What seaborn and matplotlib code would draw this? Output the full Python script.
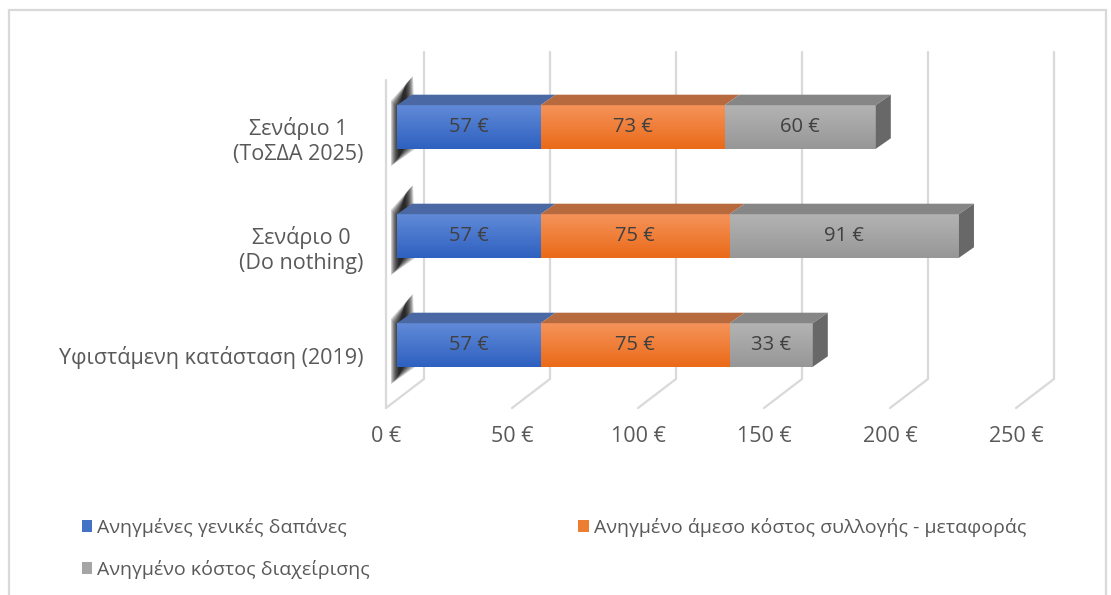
import matplotlib

matplotlib.use("Agg")
import matplotlib.pyplot as plt
import matplotlib.transforms as mtransforms
import numpy as np
import pandas as pd
import seaborn as sns
from matplotlib.colors import LinearSegmentedColormap
from matplotlib.patches import Patch, Polygon, Rectangle

# --- données ---
categories = ["Σενάριο 1\n(ΤοΣΔΑ 2025)", "Σενάριο 0\n(Do nothing)",
              "Υφιστάμενη κατάσταση (2019)"]
general_costs = [57, 57, 57]
direct_costs = [73, 75, 75]
mgmt_costs = [60, 91, 33]
series_names = ["Ανηγμένες γενικές δαπάνες",
                "Ανηγμένο άμεσο κόστος συλλογής - μεταφοράς",
                "Ανηγμένο κόστος διαχείρισης"]
xticks = [0, 50, 100, 150, 200, 250]

# couleurs : face avant (haut, bas), dessus
FRONT = [("#618bd8", "#2e60c0"), ("#f5935a", "#ea6a18"), ("#b3b3b3", "#979797")]
TOP = ["#4a68a3", "#b86a3f", "#868686"]
SIDE = "#686868"
LEGEND_COL = ["#4472c4", "#ed7d31", "#a5a5a5"]
GRID = "#d9d9d9"
TXT = "#595959"

sns.set_style("white")
plt.rcParams["font.family"] = ["Open Sans", "DejaVu Sans"]

W, H = 1111, 595
fig = plt.figure(figsize=(W / 100, H / 100), dpi=100)
ax = fig.add_axes([397 / W, (H - 408) / H, 630 / W, 356 / H])

df = pd.DataFrame({"cat": categories, "g": general_costs,
                   "d": direct_costs, "m": mgmt_costs})
df["c1"] = df["g"]
df["c2"] = df["g"] + df["d"]
df["c3"] = df["c2"] + df["m"]

# barres empilées (cumuls superposés)
for col, (top, _) in zip(["c3", "c2", "c1"], [FRONT[2], FRONT[1], FRONT[0]]):
    sns.barplot(data=df, x=col, y="cat", orient="h", color=top, width=0.4,
                linewidth=0, ax=ax, order=categories)

ax.set_xlim(0, 250)
ax.set_ylim(2.578, -0.688)
ax.set_xlabel("")
ax.set_ylabel("")
for s in ax.spines.values():
    s.set_visible(False)
ax.grid(False)

ident = mtransforms.IdentityTransform()


def d2p(x, y):
    """data -> pixels (origine en bas)"""
    return ax.transData.transform((x, y))


y_top_px = ax.transAxes.transform((0, 1))[1]
y_bot_px = ax.transAxes.transform((0, 0))[1]
BACK, FRONT_OFF, DEPTH_Y = 27, -11, 29

# murs / grille en perspective
for t in xticks:
    xf = d2p(t, 0)[0]
    ax.plot([xf + BACK, xf + BACK, xf + FRONT_OFF],
            [y_top_px, y_bot_px + DEPTH_Y, y_bot_px],
            transform=ident, color=GRID, lw=1.6, clip_on=False, zorder=0.5)
x0 = d2p(0, 0)[0]
ax.plot([x0 + FRONT_OFF, x0 + FRONT_OFF], [y_bot_px, y_top_px - 28],
        transform=ident, color=GRID, lw=1.6, clip_on=False, zorder=0.5)

# ombres floues sur le mur gauche
for i in range(len(categories)):
    xl, yc = d2p(0, i)
    base = np.array([[-6, 26], [16, 51], [18, -22], [-6, -39]], dtype=float)
    for k in range(8):
        shrink = np.array([[1, -1], [-1, -1], [-1, 1], [1, 1]]) * k * 1.1
        pts = base + shrink + [xl, yc]
        ax.add_patch(Polygon(pts, closed=True, transform=ident, color="black",
                             alpha=0.2, lw=0, zorder=1.5, clip_on=False))

# dégradé sur les faces avant
patches = [p for p in ax.patches if isinstance(p, Rectangle)]
grad = np.linspace(0, 1, 64).reshape(-1, 1)
layer_colors = [FRONT[2]] * 3 + [FRONT[1]] * 3 + [FRONT[0]] * 3
for z, (p, (ctop, cbot)) in enumerate(zip(patches, layer_colors)):
    cmap = LinearSegmentedColormap.from_list("g", [ctop, cbot])
    bx, by, bw, bh = p.get_x(), p.get_y(), p.get_width(), p.get_height()
    im = ax.imshow(grad, cmap=cmap, aspect="auto", origin="upper",
                   extent=(bx, bx + bw, by + bh, by), zorder=2 + z * 0.01)
    im.set_clip_path(p)
    p.set_facecolor("none")
ax.set_xlim(0, 250)
ax.set_ylim(2.578, -0.688)

DX, DY = 15, 10.5
half = 0.2
for i in range(len(categories)):
    segs = [(0, general_costs[i]),
            (general_costs[i], general_costs[i] + direct_costs[i]),
            (general_costs[i] + direct_costs[i],
             general_costs[i] + direct_costs[i] + mgmt_costs[i])]
    for (l, r), ctop in zip(segs, TOP):
        (xl, yt), (xr, _) = d2p(l, i - half), d2p(r, i - half)
        ax.add_patch(Polygon([[xl, yt], [xr, yt], [xr + DX, yt + DY], [xl + DX, yt + DY]],
                             transform=ident, color=ctop, lw=0, zorder=2.5,
                             clip_on=False))
    (xr, yt), (_, yb) = d2p(segs[-1][1], i - half), d2p(segs[-1][1], i + half)
    ax.add_patch(Polygon([[xr, yt], [xr + DX, yt + DY], [xr + DX, yb + DY], [xr, yb]],
                         transform=ident, color=SIDE, lw=0, zorder=2.5, clip_on=False))
    # étiquettes de valeurs
    for (l, r), v in zip(segs, [general_costs[i], direct_costs[i], mgmt_costs[i]]):
        ax.text((l + r) / 2, i, f"{v} €", ha="center", va="center",
                fontsize=14.5, color="#404040", zorder=5)

# axes : graduations
ax.set_xticks(xticks)
ax.set_xticklabels([f"{t} €" for t in xticks], fontsize=15.5, color=TXT)
ax.tick_params(axis="x", length=0, pad=13)
ax.tick_params(axis="y", length=0, pad=24)
ax.set_yticks(range(len(categories)))
ax.set_yticklabels(categories, fontsize=15.5, color=TXT, multialignment="center",
                   linespacing=1.25)
for lbl in ax.get_xticklabels():
    lbl.set_transform(lbl.get_transform()
                      + mtransforms.ScaledTranslation(FRONT_OFF / 100, 0, fig.dpi_scale_trans))
for lbl in ax.get_yticklabels():
    lbl.set_transform(lbl.get_transform()
                      + mtransforms.ScaledTranslation(0, -10 / 100, fig.dpi_scale_trans))

# légende
handles = [Patch(facecolor=c, edgecolor="none") for c in LEGEND_COL]
order = [0, 2, 1]
fig.legend([handles[k] for k in order], [series_names[k] for k in order],
           loc="upper left", bbox_to_anchor=(72 / W, 1 - 508 / H), ncol=2,
           frameon=False, fontsize=14, handlelength=0.55, handleheight=0.6,
           handletextpad=0.25, columnspacing=10.7, labelspacing=1.2,
           borderpad=0, labelcolor=TXT)

# cadre du graphique
fig.add_artist(Rectangle((8.5, -5), 1097, 590, transform=ident, fill=False,
                         edgecolor=GRID, lw=1.6))

fig.savefig("out.png", dpi=100)
